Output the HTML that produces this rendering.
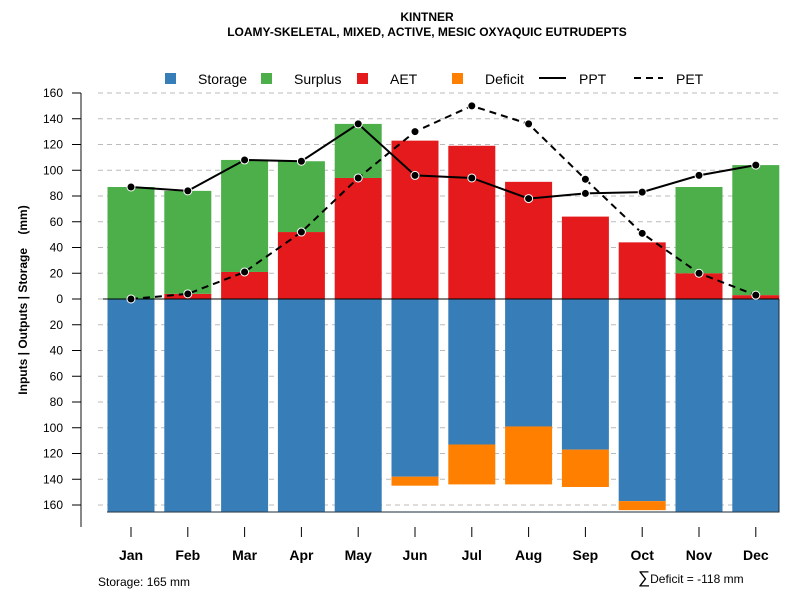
<!DOCTYPE html>
<html><head><meta charset="utf-8"><style>
body{margin:0;background:#fff}
text{font-family:"Liberation Sans",sans-serif}
</style></head><body>
<svg id="c" width="800" height="600" xmlns="http://www.w3.org/2000/svg">
<text x="427" y="21" text-anchor="middle" font-size="12" font-weight="bold">KINTNER</text>
<text x="427" y="36" text-anchor="middle" font-size="12" font-weight="bold">LOAMY-SKELETAL, MIXED, ACTIVE, MESIC OXYAQUIC EUTRUDEPTS</text>
<g id="legend" font-size="14">
<rect x="165" y="73" width="11" height="11" fill="#377EB8"/><text x="198" y="84">Storage</text>
<rect x="261" y="73" width="11" height="11" fill="#4DAF4A"/><text x="294" y="84">Surplus</text>
<rect x="357" y="73" width="11" height="11" fill="#E41A1C"/><text x="390" y="84">AET</text>
<rect x="452" y="73" width="11" height="11" fill="#FF7F00"/><text x="485" y="84">Deficit</text>
<line x1="539" y1="78" x2="566" y2="78" stroke="#000" stroke-width="2"/><text x="579" y="84">PPT</text>
<line x1="634" y1="78" x2="663" y2="78" stroke="#000" stroke-width="2" stroke-dasharray="7,5"/><text x="676" y="84">PET</text>
</g>
<text transform="translate(27,300) rotate(-90)" text-anchor="middle" font-size="12" font-weight="bold" xml:space="preserve" style="white-space:pre">Inputs | Outputs | Storage    (mm)</text>
<text x="98" y="586" font-size="12">Storage: 165 mm</text>
<text x="638" y="583" font-size="12"><tspan font-size="17">∑</tspan>Deficit = -118 mm</text>
<g id="plot"></g>
</svg>
<script>
const months=["Jan","Feb","Mar","Apr","May","Jun","Jul","Aug","Sep","Oct","Nov","Dec"];
const ppt=[87,84,108,107,136,96,94,78,82,83,96,104];
const pet=[0,4,21,52,94,130,150,136,93,51,20,3];
const aet=[0,4,21,52,94,123,119,91,64,44,20,3];
const surplus=[87,80,87,55,42,0,0,0,0,0,67,101];
const storage=[165,165,165,165,165,138,113,99,117,157,165,165];
const deficit=[0,0,0,0,0,7,31,45,29,7,0,0];
const yTicks=[160,140,120,100,80,60,40,20,0,-20,-40,-60,-80,-100,-120,-140,-160];
const NS="http://www.w3.org/2000/svg";
const g=document.getElementById('plot');
const y=v=>299-v*1.2875;
const x=i=>131+i*56.8;
const bw=47;
function mk(t,a){const e=document.createElementNS(NS,t);for(const k in a)e.setAttribute(k,a[k]);g.appendChild(e);return e;}
let ax=mk('line',{x1:81,y1:93,x2:81,y2:527,stroke:'#888','stroke-width':2});


yTicks.forEach(t=>{
 const gl=mk('line',{x1:98,y1:y(t),x2:779,y2:y(t),stroke:'#bbb','stroke-dasharray':'5,4'});
 
 
 const tk=mk('line',{x1:72,y1:y(t),x2:81,y2:y(t),stroke:'#000'});
 
 
 const tl=mk('text',{x:63,y:y(t)+4,'text-anchor':'end','font-size':12});
 tl.textContent=Math.abs(t);
 
 
});
months.forEach((m,i)=>{
 const cx=x(i);
 const s=mk('rect',{x:cx-bw/2,y:y(0),width:bw,height:y(-storage[i])-y(0),fill:'#377EB8'});
 
 
 if(deficit[i]>0){const d=mk('rect',{x:cx-bw/2,y:y(-storage[i]),width:bw,height:deficit[i]*1.2875,fill:'#FF7F00'});
 
 }
 if(aet[i]>0){const a=mk('rect',{x:cx-bw/2,y:y(aet[i]),width:bw,height:aet[i]*1.2875,fill:'#E41A1C'});
 
 }
 if(surplus[i]>0){const su=mk('rect',{x:cx-bw/2,y:y(aet[i]+surplus[i]),width:bw,height:surplus[i]*1.2875,fill:'#4DAF4A'});
 
 }
 const tk=mk('line',{x1:cx,y1:527,x2:cx,y2:537,stroke:'#000'});
 
 
 const tl=mk('text',{x:cx,y:560,'text-anchor':'middle','font-size':14,'font-weight':'bold'});
 tl.textContent=m;
 
 
});
let zl=mk('line',{x1:103,y1:y(0),x2:779,y2:y(0),stroke:'#000'});


let bl=mk('polyline',{points:`107,${y(-165)+0.5} 779,${y(-165)+0.5} 779,${y(0)}`,fill:'none',stroke:'#1a2a3a'});


function series(arr,name,dash){
 const p=mk('polyline',{points:arr.map((v,i)=>x(i)+','+y(v)).join(' '),fill:'none',stroke:'#000','stroke-width':2,'stroke-dasharray':dash});
 
 
 arr.forEach((v,i)=>{const c=mk('circle',{cx:x(i),cy:y(v),r:4,fill:'#000',stroke:'#fff','stroke-width':1});
 
 });
}
series(ppt,'ppt','none');
series(pet,'pet','7,5');
</script>
</body></html>
